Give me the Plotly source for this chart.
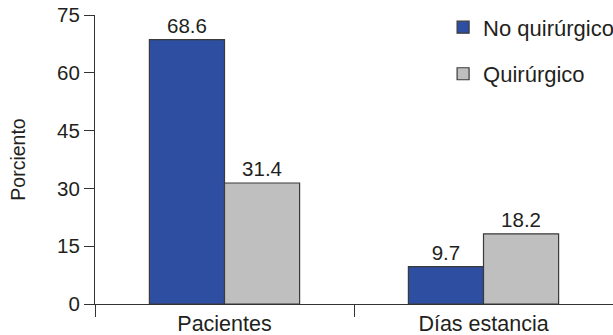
import plotly.graph_objects as go

categories = ["Pacientes", "Días estancia"]
no_quirurgico = [68.6, 9.7]
quirurgico = [31.4, 18.2]
y_ticks = [0, 15, 30, 45, 60, 75]

FONT = "Liberation Sans, Arial, Helvetica, sans-serif"
TXT = "#231f20"
EDGE = "#3a3a3a"

fig = go.Figure()
fig.add_trace(go.Bar(
    name="No quirúrgico", x=categories, y=no_quirurgico,
    marker=dict(color="#2e4ea1", line=dict(color=EDGE, width=1.2)),
    text=[f"{v:.1f}" for v in no_quirurgico], textposition="outside",
    textfont=dict(size=20.5, color=TXT, family=FONT), cliponaxis=False,
    legendgroup="a",
))
fig.add_trace(go.Bar(
    name="Quirúrgico", x=categories, y=quirurgico,
    marker=dict(color="#bfbfbf", line=dict(color=EDGE, width=1.2)),
    text=[f"{v:.1f}" for v in quirurgico], textposition="outside",
    textfont=dict(size=20.5, color=TXT, family=FONT), cliponaxis=False,
    legendgroup="b",
))

fig.update_layout(
    width=613, height=335,
    margin=dict(l=95, r=0, t=15, b=31, autoexpand=False),
    paper_bgcolor="white", plot_bgcolor="white",
    font=dict(family=FONT, size=20.5, color=TXT),
    barmode="group", bargap=0.42, bargroupgap=0,
    showlegend=True,
    legend=dict(
        x=0.672, y=1.03,
        xanchor="left", yanchor="top",
        font=dict(size=22, color=TXT, family=FONT),
        tracegroupgap=15, bgcolor="rgba(0,0,0,0)",
    ),
    xaxis=dict(
        showline=True, linecolor="#333", linewidth=1.2,
        ticks="outside", tickson="boundaries", ticklen=12, tickcolor="#333", tickwidth=1.2,
        showgrid=False, range=[-0.5, 1.5],
        tickfont=dict(size=21.5),
    ),
    yaxis=dict(
        range=[0, 75], tickvals=y_ticks,
        showline=True, linecolor="#333", linewidth=1.2,
        ticks="outside", ticklen=10, tickcolor="#333", tickwidth=1.2,
        showgrid=False, zeroline=False,
        title=dict(text="Porciento", standoff=26, font=dict(size=19.5)),
    ),
)

fig.write_html("out.html")
